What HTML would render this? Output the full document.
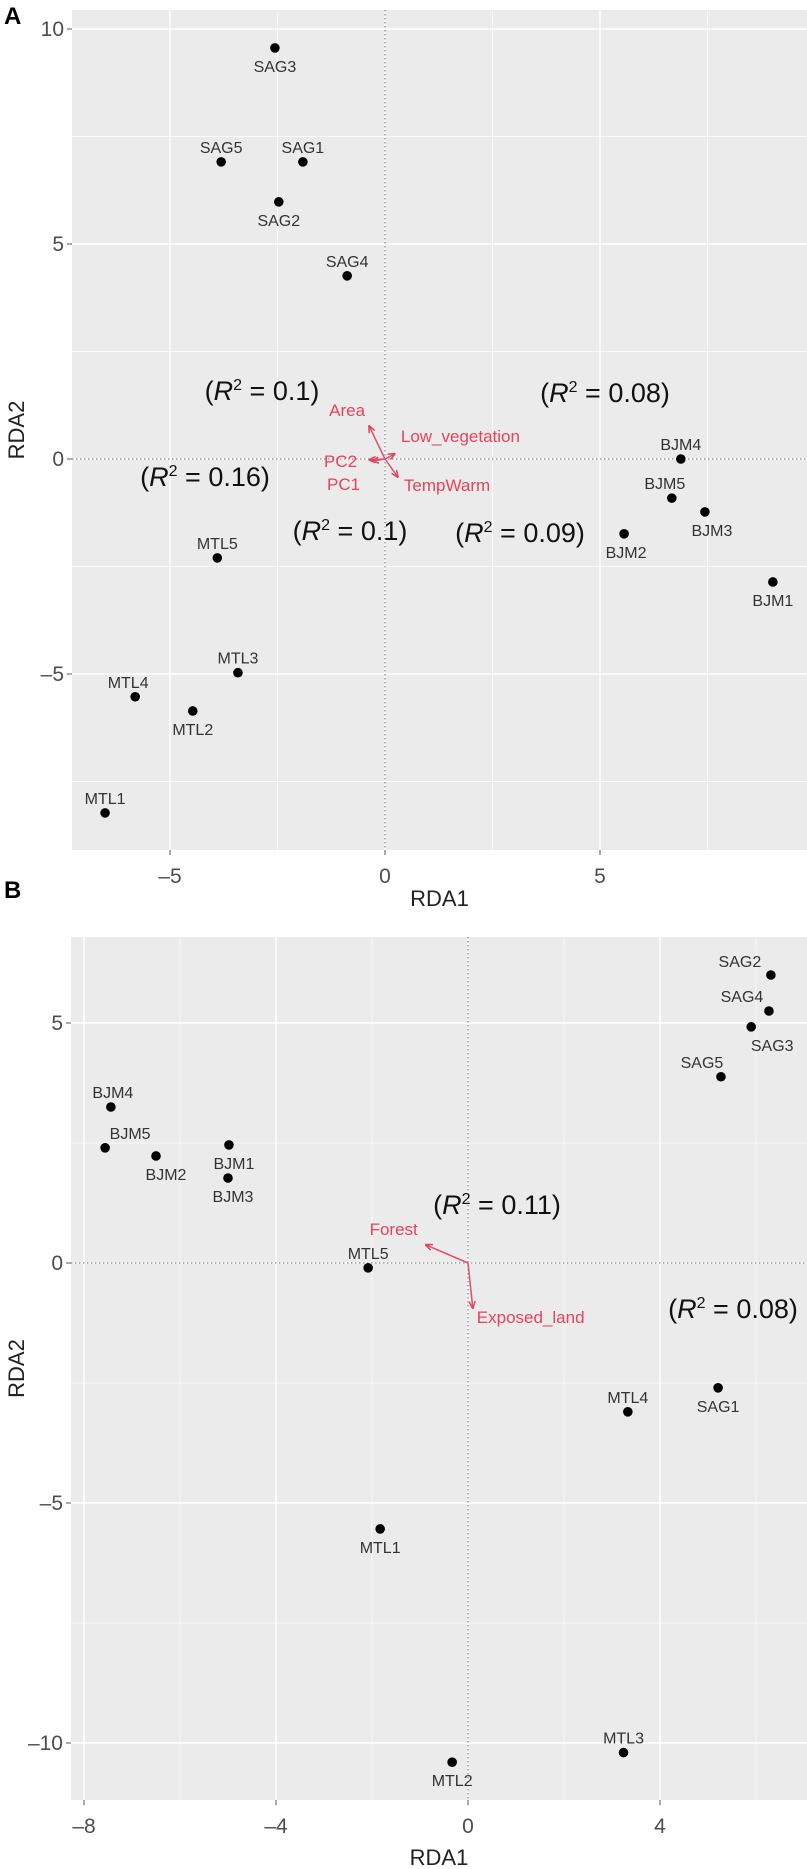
<!DOCTYPE html>
<html><head><meta charset="utf-8"><style>
html,body{margin:0;padding:0;background:#fff;}
svg{display:block;font-family:"Liberation Sans",sans-serif;}
</style></head><body>
<svg id="chart" width="807" height="1869" viewBox="0 0 807 1869"></svg>
<script>
// ---- Panel A data ----
const aSites = ["SAG3","SAG5","SAG1","SAG2","SAG4","MTL5","MTL3","MTL4","MTL2","MTL1","BJM4","BJM5","BJM3","BJM2","BJM1"];
const aX = [-2.56,-3.81,-1.91,-2.47,-0.88,-3.9,-3.42,-5.81,-4.47,-6.51,6.88,6.67,7.44,5.56,9.02];
const aY = [9.56,6.91,6.91,5.98,4.26,-2.3,-4.97,-5.53,-5.86,-8.23,0,-0.91,-1.23,-1.74,-2.86];
const aVecNames = ["Area","Low_vegetation","PC2","PC1","TempWarm"];
const aVecX = [-0.37,0.23,-0.37,-0.3,0.3];
const aVecY = [0.77,0.12,-0.02,-0.05,-0.42];
const aR2 = ["0.1","0.16","0.1","0.08","0.09"];
const aXTicks = [-5,0,5];
const aYTicks = [10,5,0,-5];
// ---- Panel B data ----
const bSites = ["BJM4","BJM5","BJM2","BJM1","BJM3","MTL5","SAG2","SAG4","SAG3","SAG5","SAG1","MTL4","MTL1","MTL2","MTL3"];
const bX = [-7.44,-7.56,-6.5,-4.98,-5.0,-2.08,6.31,6.27,5.9,5.27,5.21,3.33,-1.83,-0.33,3.24];
const bY = [3.25,2.40,2.23,2.46,1.77,-0.1,6.0,5.25,4.92,3.88,-2.6,-3.1,-5.54,-10.4,-10.2];
const bVecNames = ["Forest","Exposed_land"];
const bVecX = [-0.88,0.1];
const bVecY = [0.38,-0.94];
const bR2 = ["0.11","0.08"];
const bXTicks = [-8,-4,0,4];
const bYTicks = [5,0,-5,-10];

// layout (not data)
const aLab = [[0,24],[0,-9],[0,-9],[0,24],[0,-9],[0,-9],[0,-9],[-7,-9],[0,24],[0,-9],[0,-9],[-7,-9],[7,24],[2,24],[0,24]];
const bLab = [[2,-9],[25,-9],[10,24],[5,24],[5,24],[0,-9],[-31,-8],[-27,-9],[21,24],[-19,-9],[0,24],[0,-9],[0,24],[0,24],[0,-9]];
const aVecLab = [[-4,-10,"end"],[6,-12,"start"],[-12,7,"end"],[-12,29,"end"],[6,14,"start"]];
const bVecLab = [[-8,-10,"end"],[4,15,"start"]];
const aR2Pos = [[262,400],[205,486],[350,540],[605,402],[520,542]];
const bR2Pos = [[497,1214],[733,1318]];

const NS="http://www.w3.org/2000/svg";
const svg=document.getElementById('chart');
function mk(tag,attrs,parent,text){const e=document.createElementNS(NS,tag);for(const k in attrs)e.setAttribute(k,attrs[k]);if(text!==undefined)e.textContent=text;(parent||svg).appendChild(e);return e;}

const defs=mk('defs',{});
const m=mk('marker',{id:'arr',viewBox:'0 0 10 10',refX:'9',refY:'5',markerWidth:'5',markerHeight:'5',orient:'auto-start-reverse'},defs);
mk('path',{d:'M0,1 L10,5 L0,9',fill:'none',stroke:'#e0475e','stroke-width':'2'},m);

function panel(cfg){
  const {px0,px1,py0,py1,x0,y0,s,name}=cfg;
  const sx=v=>x0+v*s, sy=v=>y0-v*s;
  const g=mk('g',{});
  
  
  const bg=mk('rect',{x:px0,y:py0,width:px1-px0,height:py1-py0,fill:'#ebebeb'},g);
  
  
  const xmin=(px0-x0)/s,xmax=(px1-x0)/s,ymax=(y0-py0)/s,ymin=(y0-py1)/s;
  const step=cfg.xTicks[1]-cfg.xTicks[0], ystep=cfg.yTicks[0]-cfg.yTicks[1];
  for(let v=Math.ceil(xmin/(step/2))*(step/2);v<=xmax;v+=step/2){
    const major=Math.abs(Math.round(v/step)*step-v)<1e-6;
    const l=mk('line',{x1:sx(v),x2:sx(v),y1:py0,y2:py1,stroke:'#fff','stroke-width':major?1.4:0.7},g);
    
    
  }
  for(let v=Math.ceil(ymin/(ystep/2))*(ystep/2);v<=ymax;v+=ystep/2){
    const major=Math.abs(Math.round(v/ystep)*ystep-v)<1e-6;
    const l=mk('line',{x1:px0,x2:px1,y1:sy(v),y2:sy(v),stroke:'#fff','stroke-width':major?1.4:0.7},g);
    
    
  }
  const h=mk('line',{x1:px0,x2:px1,y1:sy(0),y2:sy(0),stroke:'#888','stroke-width':1.2,'stroke-dasharray':'1.5,2.5'},g);
  
  
  const vv=mk('line',{x1:sx(0),x2:sx(0),y1:py0,y2:py1,stroke:'#888','stroke-width':1.2,'stroke-dasharray':'1.5,2.5'},g);
  
  
  cfg.xTicks.forEach(v=>{
    mk('line',{x1:sx(v),x2:sx(v),y1:py1,y2:py1+5,stroke:'#555','stroke-width':1},g);
    const t=mk('text',{x:sx(v),y:py1+33,'text-anchor':'middle','font-size':'21',fill:'#4d4d4d'},g,v<0?'\u2013'+(-v):String(v));
    
    
  });
  cfg.yTicks.forEach(v=>{
    mk('line',{x1:px0-5,x2:px0,y1:sy(v),y2:sy(v),stroke:'#555','stroke-width':1},g);
    const t=mk('text',{x:px0-8,y:sy(v)+7,'text-anchor':'end','font-size':'21',fill:'#4d4d4d'},g,v<0?'\u2013'+(-v):String(v));
    
    
  });
  const xt=mk('text',{x:(px0+px1)/2,y:cfg.xTitleY,'text-anchor':'middle','font-size':'22',fill:'#222'},g,'RDA1');
  
  
  const yc=(py0+py1)/2;
  const yt=mk('text',{x:24,y:yc,'text-anchor':'middle','font-size':'22',fill:'#222',transform:`rotate(-90 24 ${yc})`},g,'RDA2');
  
  
  const pl=mk('text',{x:4,y:cfg.letterY,'font-size':'24','font-weight':'bold',fill:'#000'},g,cfg.letter);
  
  
  cfg.vN.forEach((n,i)=>{
    const ln=mk('line',{x1:sx(0),y1:sy(0),x2:sx(cfg.vX[i]),y2:sy(cfg.vY[i]),stroke:'#d9536a','stroke-width':1.5,'marker-end':'url(#arr)'},g);
    
    
    const o=cfg.vLab[i];
    const t=mk('text',{x:sx(cfg.vX[i])+o[0],y:sy(cfg.vY[i])+o[1],'text-anchor':o[2],'font-size':'17',fill:'#e8435a'},g,n);
    
    
  });
  cfg.sites.forEach((n,i)=>{
    const c=mk('circle',{cx:sx(cfg.X[i]),cy:sy(cfg.Y[i]),r:4.8,fill:'#000'},g);
    
    
    const o=cfg.lab[i];
    const t=mk('text',{x:sx(cfg.X[i])+o[0],y:sy(cfg.Y[i])+o[1],'text-anchor':'middle','font-size':'16',fill:'#333'},g,n);
    
    
  });
  cfg.r2.forEach((v,i)=>{
    const p=cfg.r2Pos[i];
    const t=mk('text',{x:p[0],y:p[1],'text-anchor':'middle','font-size':'27',fill:'#111'},g);
    
    
    mk('tspan',{},t,'(');
    mk('tspan',{'font-style':'italic'},t,'R');
    mk('tspan',{'font-size':'16',dy:'-10'},t,'2');
    mk('tspan',{dy:'10'},t,' = '+v+')');
  });
}
panel({name:'panel-a',letter:'A',letterY:24,px0:72,px1:807,py0:10,py1:850,x0:385,y0:459,s:43,xTicks:aXTicks,yTicks:aYTicks,xTitleY:906,
  sites:aSites,X:aX,Y:aY,lab:aLab,vN:aVecNames,vX:aVecX,vY:aVecY,vLab:aVecLab,r2:aR2,r2Pos:aR2Pos});
panel({name:'panel-b',letter:'B',letterY:898,px0:71,px1:807,py0:937,py1:1800,x0:468,y0:1263,s:48,xTicks:bXTicks,yTicks:bYTicks,xTitleY:1865,
  sites:bSites,X:bX,Y:bY,lab:bLab,vN:bVecNames,vX:bVecX,vY:bVecY,vLab:bVecLab,r2:bR2,r2Pos:bR2Pos});
</script>
</body></html>
